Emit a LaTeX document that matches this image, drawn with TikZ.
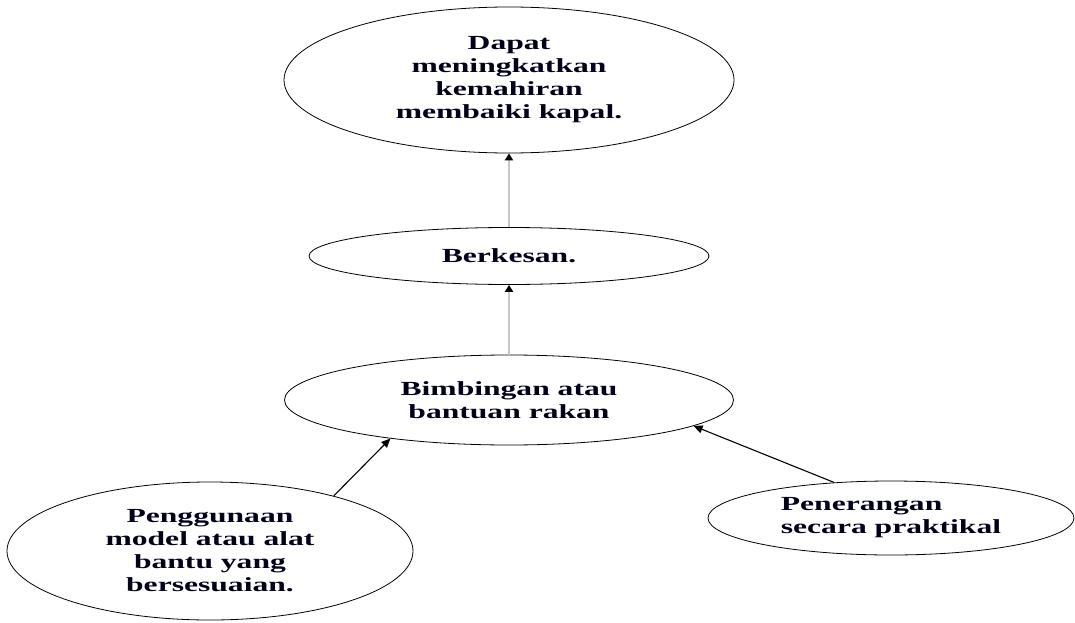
\documentclass[tikz,border=0pt]{standalone}
\usepackage{fontspec}
\setmainfont{Liberation Serif}[FakeStretch=1.58]
\usetikzlibrary{shapes.geometric,arrows.meta}
\tikzset{
  bubble/.style={ellipse,draw=black,line width=0.8pt,inner sep=0pt,align=center,
    font={\fontsize{20}{23}\selectfont\bfseries},text=black!90!blue},
  uparrow/.style={draw=black!22,line width=1.8pt,-{Triangle[length=7pt,width=8pt,black]}},
  diagarrow/.style={draw=black,line width=1.1pt,-{Triangle[length=9pt,width=8pt,black]}}
}
\begin{document}
\begin{tikzpicture}[x=1pt,y=-1pt]
\useasboundingbox (0,0) rectangle (1075,623);
\node[bubble,minimum width=450pt,minimum height=146pt] (top) at (509,80)
  {Dapat\\meningkatkan\\kemahiran\\membaiki kapal.};
\node[bubble,minimum width=400pt,minimum height=57pt] (berk) at (509,256) {Berkesan.};
\node[bubble,minimum width=449pt,minimum height=90pt] (bim) at (509,400)
  {Bimbingan atau\\bantuan rakan};
\node[bubble,minimum width=406pt,minimum height=138pt] (pl) at (210,551)
  {Penggunaan\\model atau alat\\bantu yang\\bersesuaian.};
\node[bubble,align=left,minimum width=366pt,minimum height=74pt] (pr) at (891,518)
  {Penerangan\\secara praktikal};
\draw[uparrow] (berk.north) -- (top.south);
\draw[uparrow] (bim.north) -- (berk.south);
\draw[diagarrow] (pl.24) -- (bim.198);
\draw[diagarrow] (pr.148) -- (bim.352);
\end{tikzpicture}
\end{document}
